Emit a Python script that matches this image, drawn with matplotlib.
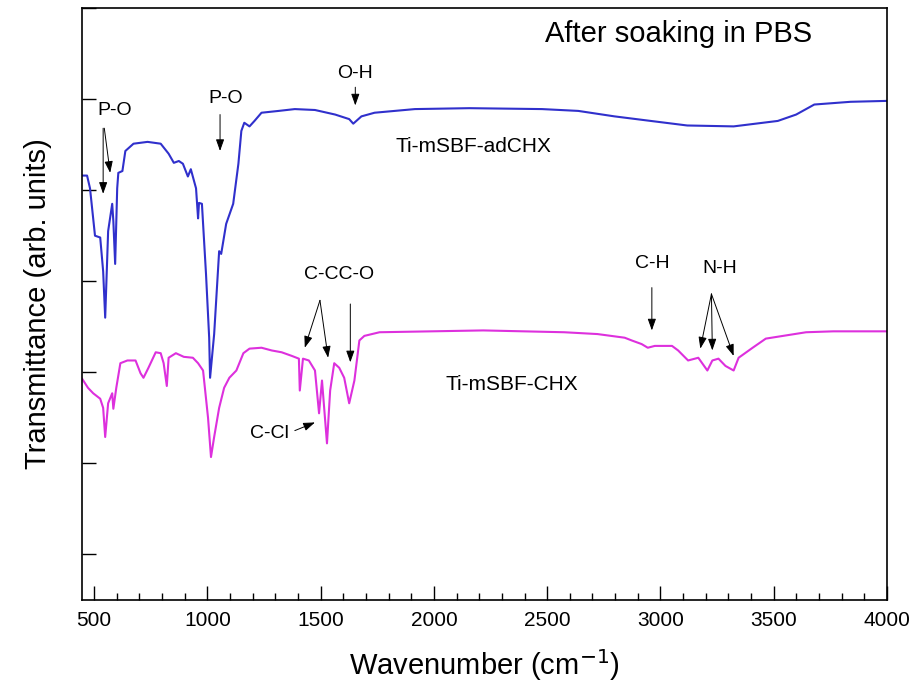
import numpy as np
import matplotlib
matplotlib.use('Agg')
import matplotlib.pyplot as plt
from matplotlib.ticker import MultipleLocator

plt.rcParams['font.family'] = ['Liberation Sans', 'DejaVu Sans']

# Ti-mSBF-adCHX (blue)
wn_ad = [447, 469, 482, 504, 527, 540, 549, 562, 580, 585, 593, 602, 607, 625, 638,
         674, 736, 794, 829, 852, 874, 892, 914, 927, 950, 959, 963, 976, 994, 1008,
         1012, 1030, 1052, 1061, 1083, 1114, 1137, 1150, 1163, 1186, 1208, 1239, 1315,
         1386, 1475, 1564, 1626, 1644, 1680, 1738, 1916, 2156, 2477, 2637, 2797, 2957,
         3118, 3323, 3518, 3599, 3679, 3839, 4000]
tr_ad = [4.66, 4.66, 4.52, 4.00, 3.98, 3.61, 3.10, 4.05, 4.35, 4.16, 3.69, 4.52, 4.69, 4.71, 4.93,
         5.01, 5.03, 5.01, 4.90, 4.80, 4.82, 4.79, 4.65, 4.73, 4.52, 4.19, 4.36, 4.35, 3.58, 2.88,
         2.44, 2.92, 3.83, 3.80, 4.13, 4.35, 4.79, 5.15, 5.24, 5.20, 5.26, 5.35, 5.37,
         5.39, 5.38, 5.33, 5.28, 5.23, 5.31, 5.35, 5.39, 5.40, 5.39, 5.37, 5.31, 5.26,
         5.21, 5.20, 5.26, 5.33, 5.44, 5.47, 5.48]

# Ti-mSBF-CHX (magenta)
wn_chx = [447, 473, 496, 527, 540, 549, 562, 580, 585, 598, 616, 647, 683, 705, 718,
          740, 772, 794, 807, 821, 829, 861, 896, 936, 959, 981, 1003, 1016, 1030, 1052,
          1074, 1097, 1128, 1159, 1186, 1239, 1284, 1328, 1373, 1404, 1408, 1422, 1448,
          1475, 1493, 1506, 1528, 1542, 1560, 1582, 1604, 1626, 1649, 1671, 1693, 1760,
          2218, 2575, 2722, 2842, 2873, 2917, 2944, 2975, 3051, 3078, 3122, 3167, 3207,
          3229, 3256, 3287, 3323, 3345, 3407, 3465, 3541, 3643, 3763, 4000]
tr_chx = [2.43, 2.33, 2.27, 2.21, 2.11, 1.79, 2.16, 2.27, 2.10, 2.33, 2.60, 2.63, 2.63, 2.49, 2.44,
          2.55, 2.72, 2.71, 2.60, 2.35, 2.66, 2.71, 2.67, 2.66, 2.60, 2.52, 2.00, 1.57, 1.79, 2.11,
          2.33, 2.44, 2.52, 2.71, 2.76, 2.77, 2.74, 2.72, 2.68, 2.65, 2.30, 2.65, 2.63,
          2.52, 2.05, 2.41, 1.72, 2.30, 2.60, 2.55, 2.44, 2.16, 2.41, 2.85, 2.90, 2.94,
          2.96, 2.94, 2.92, 2.88, 2.85, 2.81, 2.77, 2.79, 2.79, 2.74, 2.63, 2.66, 2.52,
          2.63, 2.65, 2.57, 2.52, 2.66, 2.77, 2.87, 2.90, 2.94, 2.95, 2.95]

fig = plt.figure(figsize=(9.12, 6.94), dpi=100)
ax = fig.add_axes([0.09, 0.1354, 0.8826, 0.8531])

ax.plot(wn_ad, tr_ad, color='#3030cc', lw=1.5)
ax.plot(wn_chx, tr_chx, color='#dd30dd', lw=1.5)

ax.set_xlim(447, 4000)
ax.set_ylim(0, 6.5)
ax.xaxis.set_major_locator(MultipleLocator(500))
ax.xaxis.set_minor_locator(MultipleLocator(100))
ax.set_yticks(np.arange(0.5, 7, 1.0))
ax.set_yticklabels([])
ax.tick_params(axis='both', which='major', direction='in', length=10, width=1, labelsize=15)
ax.tick_params(axis='x', which='minor', direction='in', length=5, width=1)
ax.tick_params(axis='x', pad=8)
for s in ax.spines.values():
    s.set_linewidth(1.2)

ax.set_xlabel('Wavenumber (cm$^{-1}$)', fontsize=21, labelpad=12)
ax.set_ylabel('Transmittance (arb. units)', fontsize=21, labelpad=18)

ax.text(3080, 6.21, 'After soaking in PBS', fontsize=21, ha='center', va='center')
ax.text(2174, 4.98, 'Ti-mSBF-adCHX', fontsize=15, ha='center', va='center')
ax.text(2343, 2.37, 'Ti-mSBF-CHX', fontsize=15, ha='center', va='center')

arrow = dict(arrowstyle='-|>,head_length=0.7,head_width=0.25', color='black', lw=0.7,
             shrinkA=0, shrinkB=0)

def label(txt, x, y):
    ax.text(x, y, txt, fontsize=14, ha='center', va='center')

def arr(x0, y0, x1, y1):
    ax.annotate('', xy=(x1, y1), xytext=(x0, y0), arrowprops=arrow)

label('O-H', 1653, 5.78)
arr(1653, 5.63, 1653, 5.43)
label('P-O', 589, 5.37)
arr(540, 5.18, 540, 4.46)
arr(545, 5.18, 571, 4.69)
label('P-O', 1083, 5.51)
arr(1056, 5.33, 1056, 4.93)
label('C-CC-O', 1582, 3.57)
arr(1497, 3.29, 1430, 2.77)
arr(1497, 3.29, 1533, 2.66)
arr(1631, 3.25, 1631, 2.61)
label('C-Cl', 1275, 1.83)
arr(1386, 1.86, 1475, 1.95)
label('C-H', 2966, 3.69)
arr(2962, 3.43, 2962, 2.96)
label('N-H', 3260, 3.64)
arr(3225, 3.36, 3176, 2.76)
arr(3225, 3.36, 3229, 2.74)
arr(3225, 3.36, 3323, 2.68)

fig.savefig('out.png', dpi=100)
